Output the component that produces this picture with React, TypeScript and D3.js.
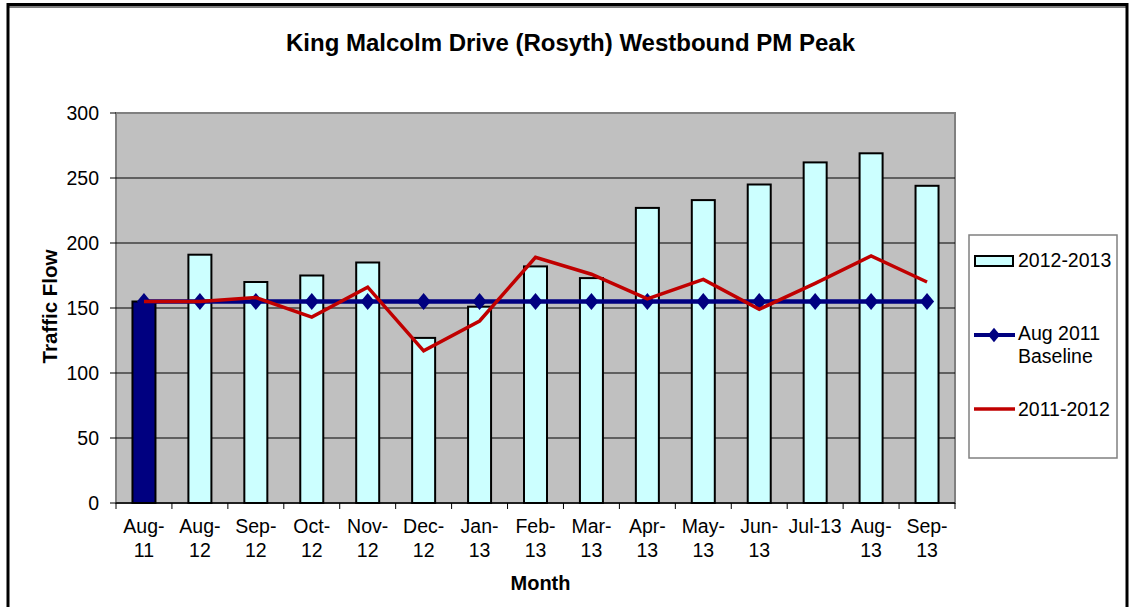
import { useEffect, useRef } from "react";
import * as d3 from "d3";

// Données
const months = [
  "Aug-11", "Aug-12", "Sep-12", "Oct-12", "Nov-12", "Dec-12", "Jan-13", "Feb-13",
  "Mar-13", "Apr-13", "May-13", "Jun-13", "Jul-13", "Aug-13", "Sep-13",
];
const flow1213 = [155, 191, 170, 175, 185, 127, 151, 182, 173, 227, 233, 245, 262, 269, 244];
const baseline = [155, 155, 155, 155, 155, 155, 155, 155, 155, 155, 155, 155, 155, 155, 155];
const flow1112 = [155, 155, 158, 143, 166, 117, 140, 189, 176, 157, 172, 149, 169, 190, 170];
const yTicks = [0, 50, 100, 150, 200, 250, 300];

const W = 1131;
const H = 607;
const FONT = "'Liberation Sans', Arial, sans-serif";

export default function App() {
  const svgRef = useRef<SVGSVGElement>(null);

  useEffect(() => {
    if (!svgRef.current) return;
    const svg = d3.select(svgRef.current);
    svg.selectAll("*").remove();

    // Cadre extérieur
    svg.append("rect").attr("width", W).attr("height", H).attr("fill", "#fff");
    svg.append("rect")
      .attr("x", 8).attr("y", 4.5).attr("width", 1119).attr("height", 640)
      .attr("fill", "none").attr("stroke", "#000").attr("stroke-width", 3);
    svg.append("line")
      .attr("x1", 8).attr("x2", 1127).attr("y1", 7).attr("y2", 7)
      .attr("stroke", "#000").attr("stroke-width", 1);

    // Zone du graphique
    const left = 116, right = 955, top = 113, bottom = 503;
    const x = d3.scaleBand<string>().domain(months).range([left, right]);
    const y = d3.scaleLinear().domain([0, 300]).range([bottom, top]);

    svg.append("rect")
      .attr("x", left).attr("y", top).attr("width", right - left).attr("height", bottom - top)
      .attr("fill", "#c0c0c0").attr("stroke", "#808080").attr("stroke-width", 2);

    // Grille
    svg.append("g")
      .selectAll("line")
      .data(yTicks.filter((t) => t > 0 && t < 300))
      .join("line")
      .attr("x1", left).attr("x2", right)
      .attr("y1", (d) => y(d)).attr("y2", (d) => y(d))
      .attr("stroke", "#000").attr("stroke-width", 1);

    // Barres 2012-2013
    const barW = 23;
    svg.append("g")
      .selectAll("rect")
      .data(flow1213)
      .join("rect")
      .attr("x", (_d, i) => x(months[i])! + x.bandwidth() / 2 - barW / 2)
      .attr("y", (d) => y(d))
      .attr("width", barW)
      .attr("height", (d) => bottom - y(d))
      .attr("fill", (_d, i) => (i === 0 ? "#000080" : "#ccffff"))
      .attr("stroke", "#000")
      .attr("stroke-width", 2);

    const cx = (i: number) => x(months[i])! + x.bandwidth() / 2;

    // Ligne de référence
    const line = d3.line<number>().x((_d, i) => cx(i)).y((d) => y(d));
    svg.append("path")
      .attr("d", line(baseline))
      .attr("fill", "none").attr("stroke", "#000080").attr("stroke-width", 4.5);
    svg.append("g")
      .selectAll("path")
      .data(baseline)
      .join("path")
      .attr("d", d3.symbol(d3.symbolDiamond2, 150)())
      .attr("transform", (d, i) => `translate(${cx(i)},${y(d)}) scale(0.92,1.1)`)
      .attr("fill", "#000080");

    // Ligne 2011-2012
    svg.append("path")
      .attr("d", line(flow1112))
      .attr("fill", "none").attr("stroke", "#c00000").attr("stroke-width", 3.5)
      .attr("stroke-linejoin", "miter");

    // Axes
    svg.append("line")
      .attr("x1", left).attr("x2", right).attr("y1", bottom).attr("y2", bottom)
      .attr("stroke", "#000").attr("stroke-width", 1.5);
    svg.append("g")
      .selectAll("line")
      .data(d3.range(months.length + 1))
      .join("line")
      .attr("x1", (i) => left + i * x.step()).attr("x2", (i) => left + i * x.step())
      .attr("y1", bottom).attr("y2", bottom + 6)
      .attr("stroke", "#000");
    svg.append("g")
      .selectAll("line")
      .data(yTicks)
      .join("line")
      .attr("x1", left - 6).attr("x2", left)
      .attr("y1", (d) => y(d)).attr("y2", (d) => y(d))
      .attr("stroke", "#000");
    svg.append("g")
      .selectAll("text")
      .data(yTicks)
      .join("text")
      .attr("x", 99).attr("y", (d) => y(d) + 7)
      .attr("text-anchor", "end")
      .style("font-family", FONT).style("font-size", "19.5px")
      .text((d) => d);

    // Étiquettes des mois
    const xl = svg.append("g")
      .selectAll("text")
      .data(months)
      .join("text")
      .attr("text-anchor", "middle")
      .style("font-family", FONT).style("font-size", "19.5px");
    xl.each(function (d, i) {
      const t = d3.select(this);
      const c = cx(i);
      if (d === "Jul-13") {
        t.append("tspan").attr("x", c).attr("y", 533).text(d);
      } else {
        const [m, yy] = d.split("-");
        t.append("tspan").attr("x", c).attr("y", 533).text(`${m}-`);
        t.append("tspan").attr("x", c).attr("y", 557).text(yy);
      }
    });

    // Titres
    svg.append("text")
      .attr("x", 570.5).attr("y", 50.5).attr("text-anchor", "middle")
      .attr("textLength", 569).attr("lengthAdjust", "spacingAndGlyphs")
      .style("font-family", FONT).style("font-size", "23px").style("font-weight", "bold")
      .text("King Malcolm Drive (Rosyth) Westbound PM Peak");
    svg.append("text")
      .attr("x", 540.5).attr("y", 590).attr("text-anchor", "middle")
      .style("font-family", FONT).style("font-size", "20px").style("font-weight", "bold")
      .text("Month");
    svg.append("text")
      .attr("transform", "translate(56.5,306.5) rotate(-90)")
      .attr("text-anchor", "middle")
      .style("font-family", FONT).style("font-size", "20.5px").style("font-weight", "bold")
      .text("Traffic Flow");

    // Légende
    const lg = svg.append("g");
    lg.append("rect")
      .attr("x", 969).attr("y", 235).attr("width", 148).attr("height", 223)
      .attr("fill", "#fff").attr("stroke", "#808080").attr("stroke-width", 1.5);
    lg.append("rect")
      .attr("x", 975).attr("y", 256).attr("width", 38).attr("height", 10)
      .attr("fill", "#ccffff").attr("stroke", "#000").attr("stroke-width", 2);
    lg.append("line")
      .attr("x1", 974).attr("x2", 1015).attr("y1", 335).attr("y2", 335)
      .attr("stroke", "#000080").attr("stroke-width", 4);
    lg.append("path")
      .attr("d", d3.symbol(d3.symbolDiamond2, 110)())
      .attr("transform", "translate(994,335) scale(0.92,1.1)")
      .attr("fill", "#000080");
    lg.append("line")
      .attr("x1", 974).attr("x2", 1015).attr("y1", 409).attr("y2", 409)
      .attr("stroke", "#c00000").attr("stroke-width", 3.5);
    const lt = [
      { t: "2012-2013", y: 267 },
      { t: "Aug 2011", y: 340 },
      { t: "Baseline", y: 363 },
      { t: "2011-2012", y: 416 },
    ];
    lg.selectAll("text.l")
      .data(lt)
      .join("text")
      .attr("class", "l")
      .attr("x", 1018).attr("y", (d) => d.y)
      .style("font-family", FONT).style("font-size", "19.5px")
      .text((d) => d.t);
  }, []);

  return (
    <svg
      ref={svgRef}
      width={W}
      height={H}
      style={{ position: "absolute", left: 0, top: 0, display: "block" }}
    />
  );
}
